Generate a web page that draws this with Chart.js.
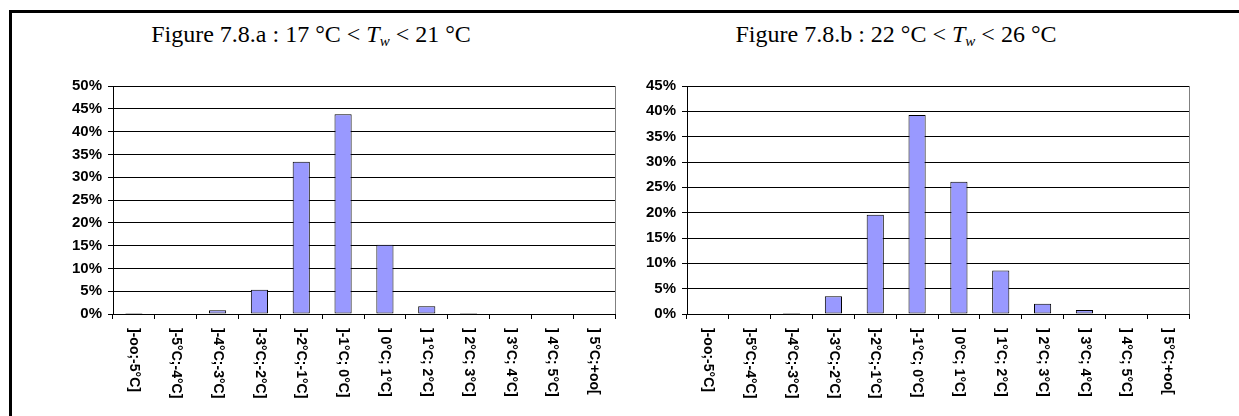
<!DOCTYPE html>
<html>
<head>
<meta charset="utf-8">
<script src="https://cdn.jsdelivr.net/npm/chart.js@4/dist/chart.umd.min.js"></script>
<style>
    html, body { margin: 0; padding: 0; background: #fff; width: 1239px; height: 416px; overflow: hidden; }
    .frame { position: absolute; left: 9px; top: 10px; width: 1300px; height: 500px; border-top: 3px solid #000; border-left: 3px solid #000; }
    .title { position: absolute; top: 20px; font-family: "Liberation Serif", "Times New Roman", serif; font-size: 24px; line-height: 28px; color: #000; white-space: nowrap; transform: translateX(-50%); }
    .title sub { font-size: 15px; vertical-align: -4px; line-height: 0; }
    .box { position: absolute; top: 70px; width: 570px; height: 346px; }
</style>
</head>
<body>
<div class="frame"></div>
<div class="title" style="left:311px">Figure 7.8.a : 17 °C &lt; <i>T</i><sub><i>w</i></sub> &lt; 21 °C</div>
<div class="title" style="left:896px">Figure 7.8.b : 22 °C &lt; <i>T</i><sub><i>w</i></sub> &lt; 26 °C</div>
<div class="box" style="left:60px"><canvas id="chartA"></canvas></div>
<div class="box" style="left:634px"><canvas id="chartB"></canvas></div>
<script>
// categories: temperature error classes
const categories = [']-oo;-5°C]', ']-5°C;-4°C]', ']-4°C;-3°C]', ']-3°C;-2°C]', ']-2°C;-1°C]', ']-1°C; 0°C]',
    '] 0°C; 1°C]', '] 1°C; 2°C]', '] 2°C; 3°C]', '] 3°C; 4°C]', '] 4°C; 5°C]', '] 5°C;+oo['];
// percentages
const valuesA = [0.2, 0, 0.8, 5.3, 33.4, 43.8, 15.2, 1.7, 0.2, 0, 0, 0];
const valuesB = [0, 0, 0.2, 3.5, 19.6, 39.3, 26.1, 8.6, 2.0, 0.8, 0, 0];
const maxA = 50, maxB = 45, stepY = 5;

const FONT = 'Liberation Sans, Arial, sans-serif';

// draws the category labels rotated clockwise, reading top to bottom
const rotatedLabels = {
    id: 'rotatedLabels',
    afterDraw(chart) {
        const ctx = chart.ctx, xs = chart.scales.x, area = chart.chartArea;
        ctx.save();
        // gray right border of plot area
        ctx.strokeStyle = '#808080'; ctx.lineWidth = 1;
        ctx.beginPath(); ctx.moveTo(area.right + 0.5, area.top); ctx.lineTo(area.right + 0.5, area.bottom); ctx.stroke();
        ctx.fillStyle = '#000';
        ctx.font = 'bold 14px ' + FONT;
        ctx.textAlign = 'left'; ctx.textBaseline = 'middle';
        chart.data.labels.forEach((lab, i) => {
            ctx.save();
            ctx.translate(xs.getPixelForValue(i), area.bottom + 14);
            ctx.rotate(Math.PI / 2);
            ctx.fillText(lab, 0, 0);
            ctx.restore();
        });
        ctx.restore();
    }
};

function makeChart(id, values, yMax) {
    new Chart(document.getElementById(id).getContext('2d'), {
        type: 'bar',
        data: { labels: categories, datasets: [{ data: values, backgroundColor: '#9999ff', borderColor: '#000', borderWidth: 1, borderSkipped: false, barPercentage: 0.41, categoryPercentage: 1 }] },
        options: {
            responsive: true, maintainAspectRatio: false, animation: false,
            layout: { padding: { top: 16, right: 15, left: 0, bottom: 0 } },
            plugins: { legend: { display: false }, tooltip: { enabled: false } },
            scales: {
                x: {
                    offset: true,
                    grid: { drawOnChartArea: false, drawTicks: true, tickLength: 5, color: '#000', offset: true },
                    border: { color: '#000' },
                    ticks: { display: false },
                    afterFit: s => { s.height = 102; }
                },
                y: {
                    min: 0, max: yMax,
                    grid: { color: '#000', tickLength: 5 },
                    border: { color: '#000' },
                    ticks: { stepSize: stepY, color: '#000', padding: 6, font: { family: FONT, size: 15, weight: 'bold' }, callback: v => v + '%' },
                    afterFit: s => { s.width = 53; }
                }
            }
        },
        plugins: [rotatedLabels]
    });
}

makeChart('chartA', valuesA, maxA);
makeChart('chartB', valuesB, maxB);
</script>
</body>
</html>
